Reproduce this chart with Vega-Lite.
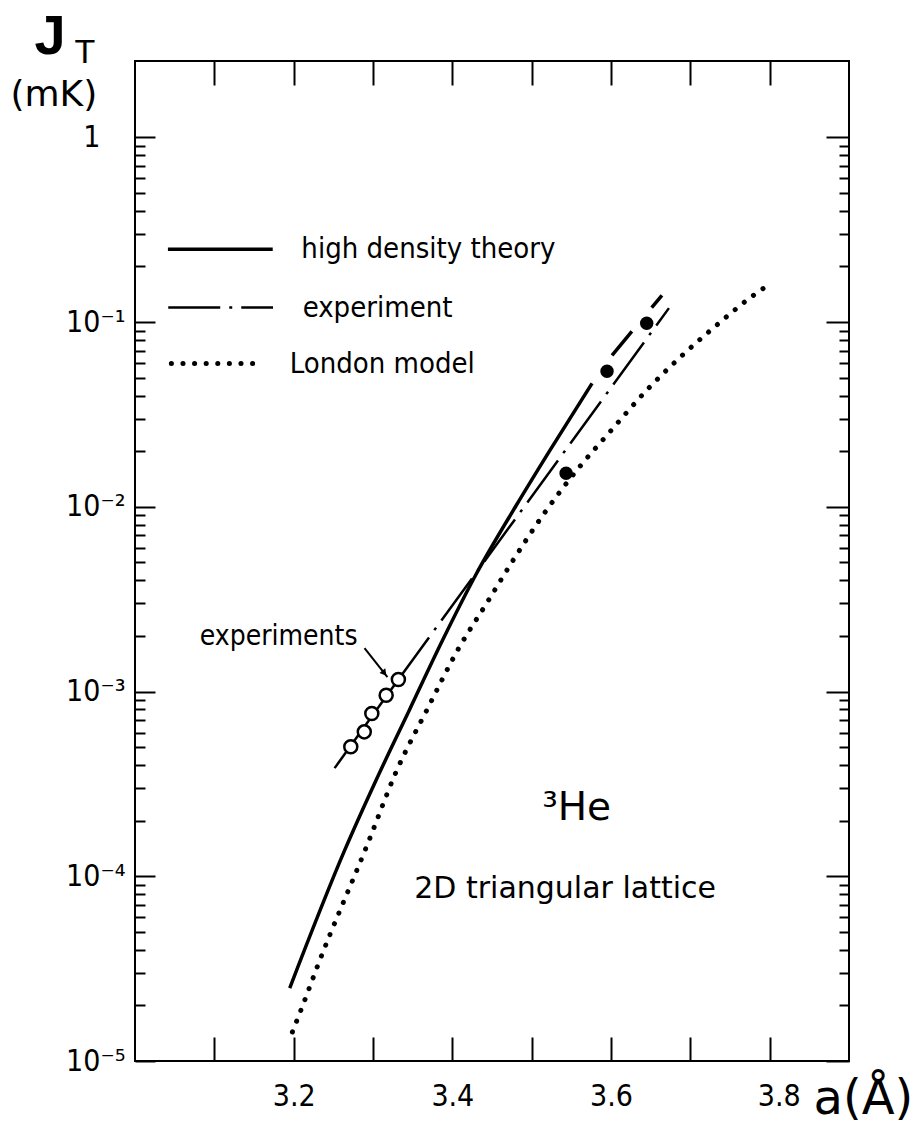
{
  "$schema": "https://vega.github.io/schema/vega-lite/v6.json",
  "width": 714,
  "height": 1000,
  "autosize": {"type": "none"},
  "padding": {"left": 135, "top": 61, "right": 70, "bottom": 65},
  "background": "white",
  "config": {
    "view": {"stroke": "black", "strokeWidth": 2},
    "axis": {"grid": false, "domain": false, "tickColor": "black", "tickWidth": 2, "labelColor": "black", "titleColor": "black", "labelFont": "Liberation Sans Narrow, DejaVu Sans Condensed, sans-serif", "titleFont": "DejaVu Sans, sans-serif", "titleFontWeight": "normal"}
  },
  "datasets": {
    "theory": [
      {"part": "curve", "a": 3.195, "J": 0.0000248},
      {"part": "curve", "a": 3.2642, "J": 0.000138},
      {"part": "curve", "a": 3.304, "J": 0.000332},
      {"part": "curve", "a": 3.3459, "J": 0.000795},
      {"part": "curve", "a": 3.3878, "J": 0.0019},
      {"part": "curve", "a": 3.4298, "J": 0.0043},
      {"part": "curve", "a": 3.4801, "J": 0.0101},
      {"part": "curve", "a": 3.522, "J": 0.0199},
      {"part": "curve", "a": 3.5761, "J": 0.0466},
      {"part": "legend", "a": 3.0415, "J": 0.2477},
      {"part": "legend", "a": 3.1736, "J": 0.2477}
    ],
    "theoryDash": [
      {"a": 3.6013, "J": 0.0661},
      {"a": 3.6642, "J": 0.1396}
    ],
    "experiment": [
      {"part": "fit", "a": 3.332, "J": 0.001163},
      {"part": "fit", "a": 3.673, "J": 0.119},
      {"part": "legend", "a": 3.0419, "J": 0.1198},
      {"part": "legend", "a": 3.174, "J": 0.1198}
    ],
    "connector": [
      {"a": 3.2516, "J": 0.000385},
      {"a": 3.332, "J": 0.001163}
    ],
    "london": [
      {"part": "curve", "a": 3.1984, "J": 0.00001435},
      {"part": "curve", "a": 3.2126, "J": 0.0000206},
      {"part": "curve", "a": 3.2306, "J": 0.0000331},
      {"part": "curve", "a": 3.2935, "J": 0.0001507},
      {"part": "curve", "a": 3.3292, "J": 0.000368},
      {"part": "curve", "a": 3.3689, "J": 0.00081},
      {"part": "curve", "a": 3.4067, "J": 0.001675},
      {"part": "curve", "a": 3.4444, "J": 0.00306},
      {"part": "curve", "a": 3.478, "J": 0.00525},
      {"part": "curve", "a": 3.5157, "J": 0.0092},
      {"part": "curve", "a": 3.5597, "J": 0.01632},
      {"part": "curve", "a": 3.5975, "J": 0.02511},
      {"part": "curve", "a": 3.6457, "J": 0.0431},
      {"part": "curve", "a": 3.6877, "J": 0.0648},
      {"part": "curve", "a": 3.7296, "J": 0.0934},
      {"part": "curve", "a": 3.7757, "J": 0.1357},
      {"part": "curve", "a": 3.8009, "J": 0.1616},
      {"part": "legend", "a": 3.0458, "J": 0.0596},
      {"part": "legend", "a": 3.1607, "J": 0.0596}
    ],
    "openPts": [
      {"a": 3.272, "J": 0.000502},
      {"a": 3.289, "J": 0.000605},
      {"a": 3.2985, "J": 0.000761},
      {"a": 3.3166, "J": 0.000956},
      {"a": 3.332, "J": 0.001163}
    ],
    "filledPts": [
      {"a": 3.5434, "J": 0.0152},
      {"a": 3.595, "J": 0.0542},
      {"a": 3.645, "J": 0.0985}
    ],
    "arrow": [
      {"a": 3.2893, "J": 0.001718},
      {"a": 3.3182, "J": 0.001197}
    ],
    "arrowHead": [
      {"a": 3.3135, "J": 0.00127}
    ],
    "notes": [
      {"kind": "legend", "text": "high density theory", "a": 3.2097, "J": 0.2477},
      {"kind": "legend", "text": "experiment", "a": 3.2113, "J": 0.1198},
      {"kind": "legend", "text": "London model", "a": 3.195, "J": 0.0596},
      {"kind": "exp", "text": "experiments", "a": 3.2805, "J": 0.00197},
      {"kind": "he", "text": "³He", "a": 3.5132, "J": 0.0002014},
      {"kind": "lattice", "text": "2D triangular lattice", "a": 3.352, "J": 0.0000762}
    ]
  },
  "encoding": {
    "x": {"field": "a", "type": "quantitative", "scale": {"domain": [3.0, 3.9], "nice": false, "zero": false}, "axis": null},
    "y": {"field": "J", "type": "quantitative", "scale": {"type": "log", "domain": [0.00001, 2.59], "nice": false}, "axis": null}
  },
  "resolve": {"axis": {"x": "independent", "y": "independent"}},
  "layer": [
    {
      "data": {"name": "theory"},
      "mark": {"type": "line", "color": "black", "strokeWidth": 3.5, "interpolate": "monotone"},
      "encoding": {
        "x": {"field": "a", "type": "quantitative", "scale": {"domain": [3.0, 3.9], "nice": false, "zero": false},
          "axis": {"orient": "bottom", "values": [3.1, 3.2, 3.3, 3.4, 3.5, 3.6, 3.7, 3.8], "tickSize": -24,
            "labelExpr": "round(datum.value * 10) % 2 == 0 ? format(datum.value, '.1f') : ''",
            "labelFontSize": 30, "labelPadding": 44, "labelFlush": false, "labelOverlap": false,
            "labelOffset": {"condition": {"test": "datum.value > 3.75", "value": 9}, "value": 0},
            "title": "a(Å)", "titleFontSize": 48, "titleX": 678, "titleY": 52, "titleAlign": "left", "titleBaseline": "alphabetic", "titleAnchor": null}},
        "y": {"field": "J", "type": "quantitative", "scale": {"type": "log", "domain": [0.00001, 2.59], "nice": false},
          "axis": {"orient": "left",
            "values": [0.00001,0.00002,0.00003,0.00004,0.00005,0.00006,0.00007,0.00008,0.00009,0.0001,0.0002,0.0003,0.0004,0.0005,0.0006,0.0007,0.0008,0.0009,0.001,0.002,0.003,0.004,0.005,0.006,0.007,0.008,0.009,0.01,0.02,0.03,0.04,0.05,0.06,0.07,0.08,0.09,0.1,0.2,0.3,0.4,0.5,0.6,0.7,0.8,0.9,1],
            "tickSize": {"condition": {"test": "abs(log(datum.value)/LN10 - round(log(datum.value)/LN10)) < 0.01", "value": -20}, "value": -10},
            "labelExpr": "abs(log(datum.value)/LN10 - round(log(datum.value)/LN10)) < 0.01 ? (datum.value > 0.5 ? '1' : '10' + ['⁻¹','⁻²','⁻³','⁻⁴','⁻⁵'][round(-log(datum.value)/LN10) - 1]) : ''",
            "labelFontSize": 30,
            "labelPadding": {"condition": {"test": "datum.value > 0.5", "value": 55}, "value": 30},
            "labelBaseline": "middle", "labelFlush": false, "labelOverlap": false,
            "title": "J", "titleFont": "Liberation Sans, sans-serif", "titleFontWeight": "bold", "titleAngle": 0, "titleFontSize": 56, "titleX": -101, "titleY": -8, "titleAlign": "left", "titleBaseline": "alphabetic", "titleAnchor": null}},
        "detail": {"field": "part"}
      }
    },
    {
      "data": {"name": "theory"},
      "mark": {"type": "point", "opacity": 0},
      "encoding": {
        "x": {"field": "a", "type": "quantitative", "scale": {"domain": [3.0, 3.9], "nice": false, "zero": false},
          "axis": {"orient": "top", "values": [3.1, 3.2, 3.3, 3.4, 3.5, 3.6, 3.7, 3.8], "tickSize": -24, "labels": false,
            "title": "T", "titleFont": "Liberation Sans, sans-serif", "titleFontSize": 34, "titleX": -61, "titleY": 1, "titleAlign": "left", "titleBaseline": "alphabetic", "titleAnchor": null}},
        "y": {"field": "J", "type": "quantitative", "scale": {"type": "log", "domain": [0.00001, 2.59], "nice": false},
          "axis": {"orient": "right",
            "values": [0.00001,0.00002,0.00003,0.00004,0.00005,0.00006,0.00007,0.00008,0.00009,0.0001,0.0002,0.0003,0.0004,0.0005,0.0006,0.0007,0.0008,0.0009,0.001,0.002,0.003,0.004,0.005,0.006,0.007,0.008,0.009,0.01,0.02,0.03,0.04,0.05,0.06,0.07,0.08,0.09,0.1,0.2,0.3,0.4,0.5,0.6,0.7,0.8,0.9,1],
            "tickSize": {"condition": {"test": "abs(log(datum.value)/LN10 - round(log(datum.value)/LN10)) < 0.01", "value": -23}, "value": -10},
            "labels": false,
            "title": "(mK)", "titleAngle": 0, "titleFontSize": 36, "titleX": -839, "titleY": 44, "titleAlign": "left", "titleBaseline": "alphabetic", "titleAnchor": null}}
      }
    },
    {
      "data": {"name": "theoryDash"},
      "mark": {"type": "line", "color": "black", "strokeWidth": 3.5, "strokeDash": [31, 31]}
    },
    {
      "data": {"name": "experiment"},
      "mark": {"type": "line", "color": "black", "strokeWidth": 2.5, "strokeDash": [52, 9, 3, 9]},
      "encoding": {"detail": {"field": "part"}}
    },
    {
      "data": {"name": "connector"},
      "mark": {"type": "line", "color": "black", "strokeWidth": 2.5}
    },
    {
      "data": {"name": "london"},
      "mark": {"type": "line", "color": "black", "strokeWidth": 5, "strokeDash": [0.1, 11.5], "strokeCap": "round", "interpolate": "monotone"},
      "encoding": {"detail": {"field": "part"}}
    },
    {
      "data": {"name": "openPts"},
      "mark": {"type": "point", "shape": "circle", "filled": true, "fill": "white", "stroke": "black", "strokeWidth": 2.5, "size": 170, "opacity": 1}
    },
    {
      "data": {"name": "filledPts"},
      "mark": {"type": "point", "shape": "circle", "filled": true, "color": "black", "size": 180, "opacity": 1}
    },
    {
      "data": {"name": "arrow"},
      "mark": {"type": "line", "color": "black", "strokeWidth": 2}
    },
    {
      "data": {"name": "arrowHead"},
      "mark": {"type": "point", "shape": "triangle", "filled": true, "color": "black", "size": 55, "angle": 141, "opacity": 1}
    },
    {
      "data": {"name": "notes"},
      "transform": [{"filter": "datum.kind == 'legend'"}],
      "mark": {"type": "text", "align": "left", "baseline": "middle", "font": "Liberation Sans Narrow, DejaVu Sans Condensed, sans-serif", "fontSize": 29, "color": "black"},
      "encoding": {"text": {"field": "text"}}
    },
    {
      "data": {"name": "notes"},
      "transform": [{"filter": "datum.kind == 'exp'"}],
      "mark": {"type": "text", "align": "right", "baseline": "middle", "font": "Liberation Sans Narrow, DejaVu Sans Condensed, sans-serif", "fontSize": 28, "color": "black"},
      "encoding": {"text": {"field": "text"}}
    },
    {
      "data": {"name": "notes"},
      "transform": [{"filter": "datum.kind == 'he'"}],
      "mark": {"type": "text", "align": "left", "baseline": "alphabetic", "font": "DejaVu Sans, sans-serif", "fontSize": 39, "color": "black"},
      "encoding": {"text": {"field": "text"}}
    },
    {
      "data": {"name": "notes"},
      "transform": [{"filter": "datum.kind == 'lattice'"}],
      "mark": {"type": "text", "align": "left", "baseline": "alphabetic", "font": "DejaVu Sans, sans-serif", "fontSize": 30, "color": "black"},
      "encoding": {"text": {"field": "text"}}
    }
  ]
}
